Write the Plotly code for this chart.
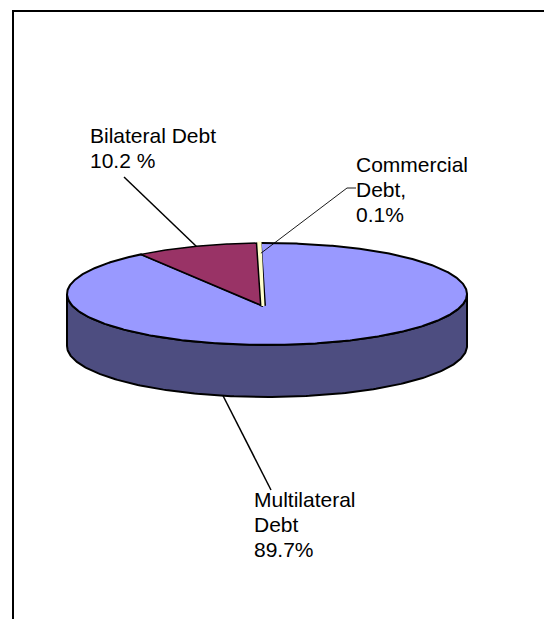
import numpy as np
import plotly.graph_objects as go

# ---- data -------------------------------------------------------------
labels = ["Multilateral Debt", "Bilateral Debt", "Commercial Debt"]
shares = [89.7, 10.2, 0.1]                      # percent of total debt
label_lines = [["Multilateral", "Debt"], ["Bilateral Debt"], ["Commercial", "Debt,"]]
pct_formats = ["{:.1f}%", "{:.1f} %", "{:.1f}%"]
top_colors = ["#9999FF", "#993366", "#FFFFCC"]
side_colors = ["#4D4D80", "#4D1A33", "#80806A"]

# ---- drawing geometry (pixel space, y grows downward) -------------------
W, H = 544, 619
CX, CY, RX, RY, DEPTH = 267, 294, 200, 51, 52
HUB = (CX - 4, CY + 12)          # apparent apex of the tilted pie
FIRST_ANGLE = -2.0               # degrees, clockwise from 12 o'clock
FONT = dict(family="Liberation Sans, Arial, sans-serif", size=21, color="black")
LINE_STEP = 25

# label boxes (left, top) and leader ends
label_pos = [(252, 485.5), (88, 121.5), (354, 150.5)]
leader_end = [[(271, 490)], [(124, 177)], [(347, 188), (356, 188)]]
leader_start = [("rim_bottom", 192.7, 1.0), ("rim_top", None, 1.0), ("rim_top", None, 0.8)]
leader_width = [1.5, 1.5, 0.9]


def ell(theta_deg, frac=1.0, drop=0.0):
    t = np.radians(theta_deg)
    return CX + frac * RX * np.sin(t), CY - frac * RY * np.cos(t) + drop


total = float(sum(shares))
spans = []
a = FIRST_ANGLE
for v in shares:
    b = a + v / total * 360.0
    spans.append((a, b))
    a = b

fig = go.Figure()

# side walls (only the front half, 90..270 deg, faces the viewer)
for i, (a0, a1) in enumerate(spans):
    lo, hi = max(a0, 90.0), min(a1, 270.0)
    if lo >= hi:
        continue
    th = np.linspace(lo, hi, 200)
    tx, ty = ell(th)
    bx, by = ell(th[::-1], drop=DEPTH)
    xs = np.concatenate([tx, bx, tx[:1]])
    ys = np.concatenate([ty, by, ty[:1]])
    fig.add_trace(go.Scatter(x=xs, y=ys, mode="lines", fill="toself",
                             fillcolor=side_colors[i],
                             line=dict(color="black", width=2),
                             hoverinfo="skip", showlegend=False))

# top faces
for i, (a0, a1) in enumerate(spans):
    n = max(int(abs(a1 - a0) * 2), 4)
    th = np.linspace(a0, a1, n)
    ax, ay = ell(th)
    xs = np.concatenate([[HUB[0]], ax, [HUB[0]]])
    ys = np.concatenate([[HUB[1]], ay, [HUB[1]]])
    if shares[i] / total < 0.01:
        # hairline slice: dark rim with a pale core so it stays visible
        fig.add_trace(go.Scatter(x=xs, y=ys, mode="lines", fill="toself",
                                 fillcolor=top_colors[i],
                                 line=dict(color="black", width=6),
                                 hoverinfo="skip", showlegend=False))
        fig.add_trace(go.Scatter(x=xs, y=ys, mode="lines",
                                 line=dict(color=top_colors[i], width=3),
                                 hoverinfo="skip", showlegend=False))
    else:
        fig.add_trace(go.Scatter(x=xs, y=ys, mode="lines", fill="toself",
                                 fillcolor=top_colors[i],
                                 line=dict(color="black", width=2 if i == 0 else 1.5),
                                 hoverinfo="skip", showlegend=False))

# leader lines
for i, (a0, a1) in enumerate(spans):
    kind, ang, frac = leader_start[i]
    if kind == "rim_bottom":
        sx, sy = ell(ang, drop=DEPTH)
    else:
        sx, sy = ell((a0 + a1) / 2.0, frac=frac)
    pts = [(sx, sy)] + leader_end[i]
    fig.add_trace(go.Scatter(x=[p[0] for p in pts], y=[p[1] for p in pts],
                             mode="lines",
                             line=dict(color="black", width=leader_width[i]),
                             hoverinfo="skip", showlegend=False))

# data labels, one text line at a time for tight line spacing
for i in range(len(shares)):
    lines = label_lines[i] + [pct_formats[i].format(shares[i])]
    for k, line in enumerate(lines):
        fig.add_annotation(x=label_pos[i][0], y=label_pos[i][1] + k * LINE_STEP,
                           text=line, xanchor="left", yanchor="top", align="left",
                           showarrow=False, font=FONT)

# chart frame (runs off the right and bottom edges)
fig.add_shape(type="rect", x0=13, y0=11, x1=W + 40, y1=H + 40,
              line=dict(color="black", width=2), layer="above")

fig.update_layout(
    width=W, height=H,
    margin=dict(l=0, r=0, t=0, b=0),
    paper_bgcolor="white", plot_bgcolor="white",
    xaxis=dict(range=[0, W], visible=False, fixedrange=True),
    yaxis=dict(range=[H, 0], visible=False, fixedrange=True),
    showlegend=False,
)

fig.write_html("out.html")
